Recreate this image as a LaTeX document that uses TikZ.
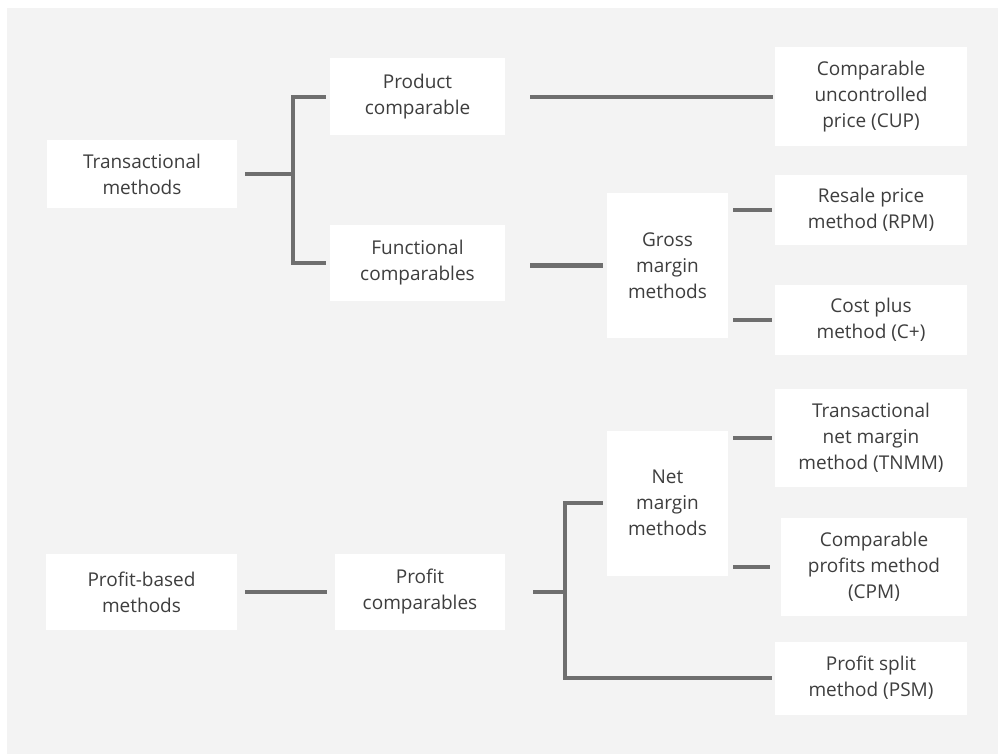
\documentclass[tikz,border=0pt]{standalone}
\usepackage{fontspec}
\setmainfont{Open Sans}
\definecolor{bg}{HTML}{F3F3F3}
\definecolor{txt}{HTML}{3E3E3E}
\definecolor{lin}{HTML}{6E6E6E}
\begin{document}
\begin{tikzpicture}[x=1pt,y=-1pt,
  box/.style={fill=white, align=center, inner sep=0pt, text=txt,
    font=\fontsize{19}{26}\selectfont},
  conn/.style={draw=lin, line width=4.5pt}]
\useasboundingbox (0,0) rectangle (998,754);
\fill[bg] (0,0) rectangle (998,754);
\fill[white] (0,0) rectangle (998,8);
\fill[white] (0,0) rectangle (7,754);

% nodes
\node[box, minimum width=190pt, minimum height=68pt] (tm) at (142,174) {Transactional\\methods};
\node[box, minimum width=175pt, minimum height=77pt] (pc) at (417.5,97) {Product\\comparable};
\node[box, minimum width=175pt, minimum height=76pt] (fc) at (417.5,263) {Functional\\comparables};
\node[box, minimum width=192pt, minimum height=99pt] (cup) at (871,97) {Comparable\\uncontrolled\\price (CUP)};
\node[box, minimum width=121pt, minimum height=145pt] (gm) at (667.5,265.5) {Gross\\margin\\methods};
\node[box, minimum width=192pt, minimum height=69pt] (rpm) at (871,210) {Resale price\\method (RPM)};
\node[box, minimum width=192pt, minimum height=70pt] (cp) at (871,320) {Cost plus\\method (C+)};
\node[box, minimum width=121pt, minimum height=145pt] (nm) at (667.5,503) {Net\\margin\\methods};
\node[box, minimum width=192pt, minimum height=98pt] (tnmm) at (871,438) {Transactional\\net margin\\method (TNMM)};
\node[box, minimum width=186pt, minimum height=98pt] (cpm) at (874,567) {Comparable\\profits method\\(CPM)};
\node[box, minimum width=192pt, minimum height=73pt] (psm) at (871,678) {Profit split\\method (PSM)};
\node[box, minimum width=191pt, minimum height=76pt] (pb) at (141.5,592) {Profit-based\\methods};
\node[box, minimum width=170pt, minimum height=76pt] (pcs) at (420,592) {Profit\\comparables};

% junctions
\coordinate (j1) at (293,174);
\coordinate (j2) at (565,592);

% connectors
\draw[conn] ([xshift=8pt]tm.east) -- (j1);
\draw[conn] ([xshift=-4pt]pc.west) -| (j1);
\draw[conn] ([xshift=-4pt]fc.west) -| (j1);
\draw[conn] ([xshift=25pt]pc.east) -- ([xshift=-2pt]cup.west |- pc.east);
\draw[conn] ([xshift=25pt]fc.east |- gm.west) -- ([xshift=-4pt]gm.west);
\draw[conn] ([xshift=5pt]gm.east |- rpm.west) -- ([xshift=-3pt]rpm.west);
\draw[conn] ([xshift=5pt]gm.east |- cp.west) -- ([xshift=-3pt]cp.west);
\draw[conn] ([xshift=5pt]nm.east |- tnmm.west) -- ([xshift=-3pt]tnmm.west);
\draw[conn] ([xshift=5pt]nm.east |- cpm.west) -- ([xshift=-11pt]cpm.west);
\draw[conn] ([xshift=8pt]pb.east) -- ([xshift=-8pt]pcs.west);
\draw[conn] ([xshift=28pt]pcs.east) -- (j2);
\draw[conn] ([xshift=-4pt]nm.west) -| (j2);
\draw[conn] ([xshift=-3pt]psm.west) -| (j2);
\end{tikzpicture}
\end{document}
